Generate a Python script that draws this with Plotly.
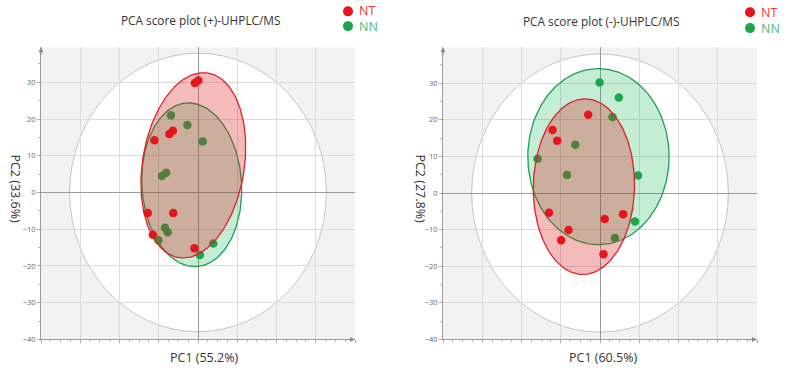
import numpy as np
import plotly.graph_objects as go

# ---------------- data ----------------
# Left panel: PCA score plot (+)-UHPLC/MS
pos_nt_pc1 = [-0.8, 0.1, -11.1, -7.3, -6.4, -12.8, -6.3, -11.5, -0.9]
pos_nt_pc2 = [29.8, 30.5, 14.2, 15.9, 16.8, -5.6, -5.6, -11.5, -15.2]
pos_nn_pc1 = [-6.9, -2.7, 1.2, -9.2, -8.1, -8.4, -7.7, -10.1, 0.5, 3.9]
pos_nn_pc2 = [21.0, 18.4, 13.9, 4.5, 5.4, -9.6, -10.8, -13.0, -17.0, -13.9]

# Right panel: PCA score plot (-)-UHPLC/MS
neg_nt_pc1 = [-3.0, -12.1, -10.9, -13.0, 1.2, 5.9, -8.0, -9.9, 0.9]
neg_nt_pc2 = [21.4, 17.2, 14.3, -5.4, -7.1, -5.8, -10.1, -12.9, -16.7]
neg_nn_pc1 = [-0.1, 4.8, 3.2, -6.3, -15.9, -8.4, 9.7, 8.9, 3.8]
neg_nn_pc2 = [30.2, 26.1, 20.8, 13.2, 9.4, 4.9, 4.8, -7.8, -12.3]

# group confidence ellipses: [centre PC1, centre PC2, semi-axis PC1, semi-axis PC2, rotation deg]
pos_nt_ellipse = [-1.2, 7.4, 13.0, 25.4, -8.0]
pos_nn_ellipse = [-1.6, 2.1, 12.7, 22.3, 3.0]
neg_nt_ellipse = [-4.1, 1.75, 12.9, 24.0, -1.0]
neg_nn_ellipse = [-0.4, 9.95, 18.0, 24.05, 0.0]

# Hotelling T2 ellipse semi-axes [PC1, PC2]
pos_t2 = [32.7, 37.9]
neg_t2 = [32.7, 38.0]

titles = ["PCA score plot (+)-UHPLC/MS", "PCA score plot (-)-UHPLC/MS"]
x_titles = ["PC1 (55.2%)", "PC1 (60.5%)"]
y_titles = ["PC2 (33.6%)", "PC2 (27.8%)"]
groups = ["NT", "NN"]
y_tick_vals = [-40, -30, -20, -10, 0, 10, 20, 30]

# ---------------- styling ----------------
W, H = 786, 379
RED = "#e8141c"
GREEN = "#1ca64c"
RED_FILL = "rgba(220,30,30,0.30)"
GREEN_FILL = "rgba(30,180,90,0.26)"
RED_LINE = "#e0202a"
GREEN_LINE = "#1e9e54"
RED_TEXT = "#ec3a3a"
GREEN_TEXT = "#4fbb7c"
FONT = "Open Sans"


def ellipse_xy(p, n=240):
    cx, cy, a, b, rot = p
    t = np.linspace(0, 2 * np.pi, n)
    th = np.deg2rad(rot)
    ex = a * np.cos(t)
    ey = b * np.sin(t)
    x = cx + ex * np.cos(th) - ey * np.sin(th)
    y = cy + ex * np.sin(th) + ey * np.cos(th)
    return x, y


fig = go.Figure()

panels = [
    dict(xa="x", ya="y", nt=(pos_nt_pc1, pos_nt_pc2), nn=(pos_nn_pc1, pos_nn_pc2),
         ent=pos_nt_ellipse, enn=pos_nn_ellipse, t2=pos_t2),
    dict(xa="x2", ya="y2", nt=(neg_nt_pc1, neg_nt_pc2), nn=(neg_nn_pc1, neg_nn_pc2),
         ent=neg_nt_ellipse, enn=neg_nn_ellipse, t2=neg_t2),
]

shapes = []
annotations = []

for i, p in enumerate(panels):
    # NN ellipse
    ex, ey = ellipse_xy(p["enn"])
    fig.add_trace(go.Scatter(x=ex, y=ey, mode="lines", fill="toself", fillcolor=GREEN_FILL,
                             line=dict(color=GREEN_LINE, width=1.3), xaxis=p["xa"], yaxis=p["ya"],
                             hoverinfo="skip", showlegend=False))
    # NN points
    fig.add_trace(go.Scatter(x=p["nn"][0], y=p["nn"][1], mode="markers", name="NN",
                             marker=dict(color=GREEN, size=8.5, line=dict(width=0)),
                             xaxis=p["xa"], yaxis=p["ya"], showlegend=False))
    # NT ellipse
    ex, ey = ellipse_xy(p["ent"])
    fig.add_trace(go.Scatter(x=ex, y=ey, mode="lines", fill="toself", fillcolor=RED_FILL,
                             line=dict(color=RED_LINE, width=1.3), xaxis=p["xa"], yaxis=p["ya"],
                             hoverinfo="skip", showlegend=False))
    # NT points
    fig.add_trace(go.Scatter(x=p["nt"][0], y=p["nt"][1], mode="markers", name="NT",
                             marker=dict(color=RED, size=8.5, line=dict(width=0)),
                             xaxis=p["xa"], yaxis=p["ya"], showlegend=False))

    # Hotelling T2 ellipse (white inside, grey outline)
    shapes.append(dict(type="circle", xref=p["xa"], yref=p["ya"],
                       x0=-p["t2"][0], x1=p["t2"][0], y0=-p["t2"][1], y1=p["t2"][1],
                       fillcolor="white", line=dict(color="#c4c4c4", width=1), layer="below"))

# axis domains (pixel based)
y_dom = [1 - 344 / H, 1 - 48 / H]
x_doms = [[41 / W, 355 / W], [443 / W, 757 / W]]
y_ranges = [[-40, 39.5], [-40, 39.8]]

axis_common_x = dict(range=[-40, 40], dtick=10, tick0=0, showticklabels=False,
                     showgrid=True, gridcolor="#dcdcdc", gridwidth=1,
                     zeroline=True, zerolinecolor="#9a9a9a", zerolinewidth=1,
                     showline=True, linecolor="#9a9a9a", linewidth=1,
                     ticks="outside", ticklen=3, tickcolor="#aaaaaa",
                     minor=dict(dtick=2.5, ticks="outside", ticklen=2, tickcolor="#b5b5b5", showgrid=False),
                     fixedrange=True)
axis_common_y = dict(tickvals=y_tick_vals, showticklabels=True,
                     tickfont=dict(family=FONT, size=7.5, color="#666666"),
                     showgrid=True, gridcolor="#dcdcdc", gridwidth=1,
                     zeroline=True, zerolinecolor="#9a9a9a", zerolinewidth=1,
                     showline=True, linecolor="#9a9a9a", linewidth=1,
                     ticks="outside", ticklen=3, tickcolor="#aaaaaa",
                     minor=dict(dtick=5, ticks="outside", ticklen=2, tickcolor="#b5b5b5", showgrid=False),
                     fixedrange=True)

layout = dict(
    width=W, height=H,
    margin=dict(l=0, r=0, t=0, b=0),
    paper_bgcolor="white",
    plot_bgcolor="#f2f2f2",
    showlegend=False,
    font=dict(family=FONT, color="#333333"),
    xaxis=dict(domain=x_doms[0], anchor="y", **axis_common_x),
    yaxis=dict(domain=y_dom, anchor="x", range=y_ranges[0], **axis_common_y),
    xaxis2=dict(domain=x_doms[1], anchor="y2", **axis_common_x),
    yaxis2=dict(domain=y_dom, anchor="x2", range=y_ranges[1], **axis_common_y),
)

# titles / axis titles / legends
title_pos = [(200, 20), (601, 21)]
xtitle_pos = [(204, 362.5), (603, 362.5)]
ytitle_pos = [(16, 191), (421, 191)]
legend_pos = [(348, 11.5, 26.5), (750, 12.5, 28.5)]

for i in range(2):
    tx, ty = title_pos[i]
    annotations.append(dict(text=titles[i], xref="paper", yref="paper", x=tx / W, y=1 - ty / H,
                            xanchor="center", yanchor="middle", showarrow=False,
                            font=dict(family=FONT, size=11.8, color="#333333")))
    tx, ty = xtitle_pos[i]
    annotations.append(dict(text=x_titles[i], xref="paper", yref="paper", x=tx / W, y=1 - ty / H,
                            xanchor="center", yanchor="middle", showarrow=False,
                            font=dict(family=FONT, size=12.5, color="#333333")))
    tx, ty = ytitle_pos[i]
    annotations.append(dict(text=y_titles[i], xref="paper", yref="paper", x=tx / W, y=1 - ty / H,
                            xanchor="center", yanchor="middle", showarrow=False, textangle=90,
                            font=dict(family=FONT, size=12.5, color="#333333")))
    # legend: marker dots + one two-line coloured text
    lx, ly1, ly2 = legend_pos[i]
    for ly, mc in [(ly1, RED), (ly2, GREEN)]:
        shapes.append(dict(type="circle", xref="paper", yref="paper", xsizemode="pixel",
                           ysizemode="pixel", xanchor=lx / W, yanchor=1 - ly / H,
                           x0=-5, x1=5, y0=-5, y1=5, fillcolor=mc, line=dict(width=0)))
    legend_text = (f"<span style='color:{RED_TEXT}'>{groups[0]}</span><br>"
                   f"<span style='color:{GREEN_TEXT}'>{groups[1]}</span>")
    annotations.append(dict(text=legend_text, xref="paper", yref="paper", x=(lx + 9) / W,
                            y=1 - (ly1 + ly2) / 2 / H, xanchor="left", yanchor="middle",
                            align="left", showarrow=False,
                            font=dict(family=FONT, size=12.5, color=RED_TEXT)))
    # axis arrows
    xa = "x" if i == 0 else "x2"
    ya = "y" if i == 0 else "y2"
    annotations.append(dict(text="", xref=xa, yref=ya, x=-40, y=y_ranges[i][1], ax=0, ay=9,
                            showarrow=True, arrowhead=2, arrowsize=1, arrowwidth=1,
                            arrowcolor="#8a8a8a"))
    annotations.append(dict(text="", xref=xa, yref=ya, x=40, y=-40, ax=-9, ay=0,
                            showarrow=True, arrowhead=2, arrowsize=1, arrowwidth=1,
                            arrowcolor="#8a8a8a"))

layout["shapes"] = shapes
layout["annotations"] = annotations
fig.update_layout(**layout)

fig.write_html("out.html", config={"displayModeBar": False},
               post_script="document.body.style.margin='0';document.body.style.overflow='hidden';")
